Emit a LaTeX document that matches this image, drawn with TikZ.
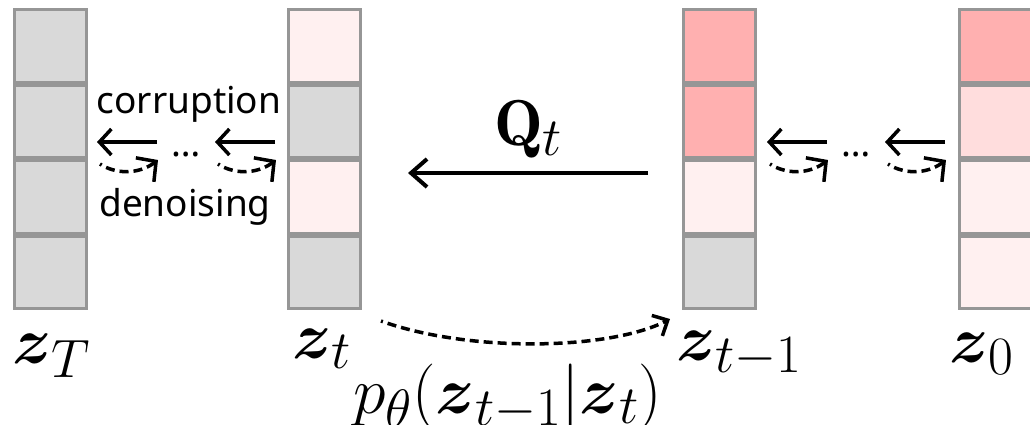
\RequirePackage{fix-cm}
\documentclass[tikz,border=0pt]{standalone}
\usepackage{amsmath,amssymb}
\usepackage{fontspec}
\newfontfamily\sansf{Noto Sans}
\usetikzlibrary{arrows.meta}
\DeclareMathSizes{66}{66}{54}{40}
\DeclareMathSizes{65}{65}{54}{40}
\definecolor{cellgray}{HTML}{D9D9D9}
\definecolor{cellborder}{HTML}{969696}
\definecolor{pinkA}{HTML}{FFF0F0}
\definecolor{pinkB}{HTML}{FFDDDD}
\definecolor{pinkC}{HTML}{FFB0B0}
\begin{document}
\begin{tikzpicture}[x=1pt,y=-1pt,
  cell/.style={draw=cellborder, line width=3pt, minimum width=72pt, minimum height=72.5pt, inner sep=0pt, outer sep=0pt},
  mathlbl/.style={inner sep=0pt, anchor=base west, font=\fontsize{66}{70}\selectfont},
  wordlbl/.style={inner sep=0pt, anchor=base, font=\sansf\fontsize{37}{40}\selectfont},
  smallarr/.style={line width=3.5pt, -{Straight Barb[length=12pt,width=26pt]}},
  smalldash/.style={line width=3.5pt, dash pattern=on 9pt off 5pt, dash phase=7pt, -{Straight Barb[length=14pt,width=30pt]}},
  bigarr/.style={line width=4pt, -{Straight Barb[length=16pt,width=28pt]}},
  bigdash/.style={line width=3.5pt, dash pattern=on 9pt off 5pt, dash phase=7pt, -{Straight Barb[length=12pt,width=23pt]}}
]
\useasboundingbox (0,0) rectangle (1030,424);
\clip (0,0) rectangle (1030,424);

% columns
\foreach \nm/\xc/\fa/\fb/\fc/\fd in {zT/50.5/cellgray/cellgray/cellgray/cellgray,
    zt/324.5/pinkA/cellgray/pinkA/cellgray,
    zm/719.5/pinkC/pinkC/pinkA/cellgray,
    zo/995.5/pinkC/pinkB/pinkA/pinkA}{
  \node[cell, fill=\fa] (\nm1) at (\xc,45.75) {};
  \node[cell, fill=\fb] (\nm2) at (\xc,121.25) {};
  \node[cell, fill=\fc] (\nm3) at (\xc,196.75) {};
  \node[cell, fill=\fd] (\nm4) at (\xc,272.25) {};
}

% labels
\node[mathlbl] (lzT) at (12,363) {$\boldsymbol{z}_T$};
\node[mathlbl] (lzt) at (292,358) {$\boldsymbol{z}_t$};
\node[mathlbl] (lzm) at (676,360) {$\boldsymbol{z}_{t-1}$};
\node[mathlbl] (lzo) at (949,362) {$\boldsymbol{z}_0$};
\node[mathlbl] (lp) at (353,413) {$p_\theta(\boldsymbol{z}_{t-1}|\boldsymbol{z}_t)$};
\node[inner sep=0pt, anchor=base west, font=\fontsize{65}{70}\selectfont] (lQ) at (494,145) {$\mathbf{Q}_t$};

\node[wordlbl] (wc) at (189,113) {corruption};
\node[wordlbl] (wd) at (185,216) {denoising};

% Q arrow
\coordinate (qs) at (648,173);
\coordinate (qe) at (408,173);
\draw[bigarr] (qs) -- (qe);

% p_theta curve
\coordinate (cs) at (381,321);
\coordinate (ce) at (670,319);
\draw[bigdash] (cs) .. controls (470,353) and (610,350) .. (ce);

% small arrow groups
\foreach \g/\ox in {L/0, R/670}{
  \coordinate (\g a1s) at (157+\ox,142);
  \coordinate (\g a1e) at (97+\ox,142);
  \coordinate (\g a2s) at (275+\ox,142);
  \coordinate (\g a2e) at (215+\ox,142);
  \draw[smallarr] (\g a1s) -- (\g a1e);
  \draw[smallarr] (\g a2s) -- (\g a2e);
  \node[wordlbl] (\g dots) at (186.5+\ox,156) {…};
  \coordinate (\g d1s) at (100+\ox,164);
  \coordinate (\g d1e) at (158+\ox,160);
  \coordinate (\g d2s) at (218+\ox,164);
  \coordinate (\g d2e) at (276+\ox,160);
  \draw[smalldash] (\g d1s) .. controls (115+\ox,174) and (138+\ox,175) .. (\g d1e);
  \draw[smalldash] (\g d2s) .. controls (233+\ox,174) and (256+\ox,175) .. (\g d2e);
}
\end{tikzpicture}
\end{document}
